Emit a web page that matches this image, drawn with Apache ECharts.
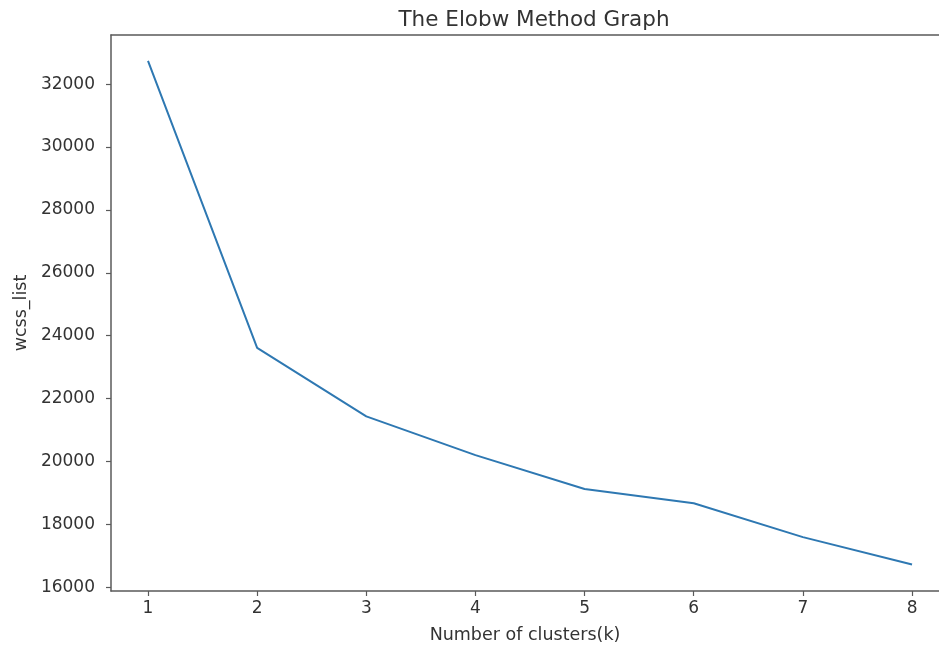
<!DOCTYPE html>
<html>
<head>
<meta charset="utf-8">
<script src="https://cdn.jsdelivr.net/npm/echarts@6/dist/echarts.min.js"></script>
<style>html,body{margin:0;padding:0;background:#fff;}#c{width:939px;height:649px;}</style>
</head>
<body>
<div id="c"></div>
<script>
const clusters = [1, 2, 3, 4, 5, 6, 7, 8];
const wcssList = [32740, 23610, 21430, 20200, 19120, 18667, 17590, 16720];
const xTicks = [1, 2, 3, 4, 5, 6, 7, 8];
const yTicks = [16000, 18000, 20000, 22000, 24000, 26000, 28000, 30000, 32000];

const font = 'DejaVu Sans';
const axisColor = '#5a5a5a';
const textColor = '#333';

const chart = echarts.init(document.getElementById('c'));
chart.setOption({
  animation: false,
  title: {
    text: 'The Elobw Method Graph',
    left: 529,
    textAlign: 'center',
    top: 4,
    textStyle: { fontFamily: font, fontSize: 21.5, fontWeight: 'normal', color: textColor }
  },
  grid: { left: 111, top: 35, right: 0, bottom: 57, show: false, containLabel: false },
  xAxis: [{
    type: 'value',
    min: 0.661,
    max: 8.247,
    name: 'Number of clusters(k)',
    nameLocation: 'middle',
    nameGap: 35,
    nameTextStyle: { fontFamily: font, fontSize: 17.5, color: textColor },
    splitLine: { show: false },
    axisLine: { show: true, onZero: false, lineStyle: { color: axisColor, width: 1.5 } },
    axisTick: { show: true, length: 5, customValues: xTicks, lineStyle: { color: axisColor, width: 1.2 } },
    axisLabel: { customValues: xTicks, margin: 9, fontFamily: font, fontSize: 17, color: textColor, formatter: v => String(v) }
  }, {
    type: 'value',
    position: 'top',
    min: 0.661,
    max: 8.247,
    splitLine: { show: false },
    axisLine: { show: true, onZero: false, lineStyle: { color: axisColor, width: 1.5 } },
    axisTick: { show: false },
    axisLabel: { show: false }
  }],
  yAxis: {
    type: 'value',
    min: 15876,
    max: 33564,
    name: 'wcss_list',
    nameLocation: 'middle',
    nameGap: 60,
    nameTextStyle: { fontFamily: font, fontSize: 17.5, color: textColor },
    splitLine: { show: false },
    axisLine: { show: true, onZero: false, lineStyle: { color: axisColor, width: 1.5 } },
    axisTick: { show: true, length: 5, customValues: yTicks, lineStyle: { color: axisColor, width: 1.2 } },
    axisLabel: { customValues: yTicks, margin: 16, fontFamily: font, fontSize: 17, color: textColor, formatter: v => String(v) }
  },
  series: [{
    type: 'line',
    xAxisIndex: 0,
    data: clusters.map((c, i) => [c, wcssList[i]]),
    showSymbol: false,
    symbol: 'none',
    lineStyle: { color: '#2e78b2', width: 2 }
  }]
});
</script>
</body>
</html>
